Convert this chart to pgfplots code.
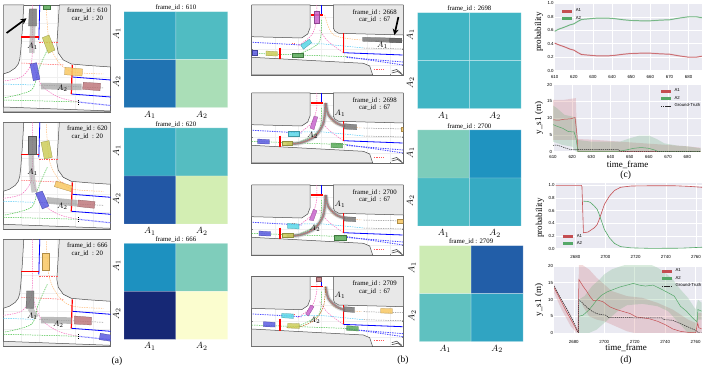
\documentclass[border=0pt]{standalone}
\usepackage{fontspec}
\setmainfont{Liberation Serif}
\newfontfamily\tickf{Liberation Sans}
\usepackage{pgfplots}
\pgfplotsset{compat=1.18}
\usetikzlibrary{arrows.meta}
\definecolor{ebg}{RGB}{234,234,242}
\definecolor{sred}{RGB}{196,78,82}
\definecolor{sgreen}{RGB}{85,168,104}
\definecolor{blk}{RGB}{232,232,232}
\definecolor{vgray}{RGB}{120,120,120}
\definecolor{vdk}{RGB}{100,100,100}
\definecolor{vyel}{RGB}{205,205,90}
\definecolor{vblue}{RGB}{90,90,225}
\definecolor{vora}{RGB}{248,200,100}
\definecolor{vrose}{RGB}{190,120,125}
\definecolor{vgrn}{RGB}{90,170,90}
\definecolor{vcya}{RGB}{90,215,230}
\definecolor{vmag}{RGB}{200,100,205}
\definecolor{band}{RGB}{165,165,165}
\pgfplotsset{
  pos/.style 2 args={at={(#1pt,{366pt-#2pt})},anchor=north west},
  colormap={ylgn}{rgb255=(255,255,217) rgb255=(237,248,177) rgb255=(199,233,180) rgb255=(127,205,187) rgb255=(65,182,196) rgb255=(29,145,192) rgb255=(34,94,168) rgb255=(37,52,148) rgb255=(8,29,88)},
  scene/.style={scale only axis,xmin=0,ymin=0,y dir=reverse,tick label style={font=\tiny},
    xticklabels={},yticklabels={},major tick length=1.2pt,tick style={gray},grid=major,grid style={gray!12,line width=.2pt},
    axis line style={draw=black!60,line width=.7pt}},
  sceneA/.style={scene,width=107.4pt,height=107pt,xmax=107.4,ymax=107,xtick={18.3,36,54,71.6,89.3},ytick={18,36,54,72,90}},
  sceneB/.style={scene,width=151.7pt,height=70pt,xmax=151.7,ymax=70,xtick={23,46,69,92,115,138},ytick={12,28,44,60}},
  line/.style={scale only axis,axis background/.style={fill=ebg},axis line style={draw=none},grid=major,
    grid style={white,line width=.5pt},major tick length=0pt,
    /pgf/number format/assume math mode=true,/pgf/number format/1000 sep={},
    tick label style={font=\tickf\fontsize{4.4}{5}\selectfont},
    yticklabel style={xshift=2.5pt},
    legend cell align=left,
    legend image code/.code={\draw[##1] (0pt,0pt) -- (10pt,0pt);},
    legend style={draw=none,fill=none,font=\tickf\fontsize{4.3}{5}\selectfont,row sep=-1pt}},
}
\newcommand{\veh}[2]{\addplot[fill=#1,draw=#1!70!black,line width=.25pt,fill opacity=.85] coordinates {#2} --cycle;}
\newcommand{\sln}[3][]{\addplot[#2,line width=.5pt,#1] coordinates {#3};}
\newcommand{\dsh}[3][]{\addplot[#2,line width=.5pt,dash pattern=on 1.4pt off 1pt,#1] coordinates {#3};}
\newcommand{\sm}[3][]{\addplot[#2,line width=.5pt,dash pattern=on 1.4pt off 1pt,smooth,#1] coordinates {#3};}
\newcommand{\bnd}[1]{\addplot[band,line width=5.5pt,opacity=.6,smooth] coordinates {#1};}
\newcommand{\trj}[1]{\addplot[band,line width=4.6pt,opacity=.35,smooth] coordinates {#1};
  \addplot[band!75!black,line width=2.4pt,opacity=.75,smooth] coordinates {#1};
  \addplot[red!75,line width=.35pt,dash pattern=on 1pt off 1pt,smooth] coordinates {#1};}
\newcommand{\frm}[4]{\node[font=\fontsize{6.8}{7}\selectfont] at (axis cs:#1,#2) {frame\_id : #3};
  \node[font=\fontsize{6.8}{7}\selectfont] at (axis cs:#1,{#2+7.6}) {car\_id\ \ : #4};}
\newcommand{\lab}[3]{\node[font=\fontsize{8.5}{9}\selectfont] at (axis cs:#1,#2) {$#3$};}
\newcommand{\sceneAbase}{%
  \addplot[fill=blk,draw=black!70,line width=.5pt] coordinates {(20.5,0)(19,25)(17.5,45)(16.5,54)(15,59)(12,63)(6,67)(0,69)(0,0)} --cycle;
  \addplot[fill=blk,draw=black!70,line width=.5pt] coordinates {(56,0)(54.5,25)(53.5,40)(55,48)(60,55)(68,59)(85,60.5)(107.4,62)(107.4,0)} --cycle;
  \addplot[fill=blk,draw=black!70,line width=.5pt] coordinates {(0,102)(107.4,106)(107.4,107)(0,107)} --cycle;
  \sln[line width=.8pt]{blue}{(36.5,0)(35.5,35)}
  \sln[line width=.8pt]{blue}{(69,72)(107.4,75)}
  \sln[line width=.8pt]{blue}{(68,89)(107.4,92)}
  \dsh[line width=1.1pt,dash pattern=on .8pt off .6pt]{blue!55}{(75,97)(107.4,100.5)}
  \sm{magenta!60}{(29,0)(29,30)(28,58)(18,72)(0,76)}
  \sm{magenta!55}{(30,60)(38,80)(55,92)(75,97)}
  \sm{green!50!gray}{(44,45)(35,65)(28,85)(0,93)}
  \sm{green!50!gray}{(0,95)(40,96)(75,97)}
  \sm{orange!55}{(43,2)(46,38)(56,58)(70,67)(100,69)}
  \dsh{cyan!70}{(0,79)(30,80)}
  \dsh{black!45}{(36,80)(100,83)}
  \dsh{red!65}{(18,58)(60,60)}
  \dsh{red!65}{(36,37)(55,37)}
  \sln[line width=1.2pt]{red}{(18,32)(36,32)}
  \sln[line width=1.2pt]{red}{(69,60)(68,89)}
  \sln[line width=.9pt,densely dotted]{black}{(75,95)(75,99)}
}
\newcommand{\sceneBbase}{%
  \addplot[fill=blk,draw=black!70,line width=.5pt] coordinates {(58.3,0)(58.3,23)(56,29)(50,33)(0,31.7)(0,0)} --cycle;
  \addplot[fill=blk,draw=black!70,line width=.5pt] coordinates {(81.7,0)(81.7,23)(83,26)(87,28.3)(151.7,30)(151.7,0)} --cycle;
  \addplot[fill=blk,draw=black!70,line width=.5pt] coordinates {(0,52.3)(111.7,58.3)(118,61)(121,70)(0,70)} --cycle;
  \sln[line width=.8pt]{blue}{(70,0)(70,10)}
  \sln[line width=.8pt]{blue}{(91.7,47.7)(151,50)}
  \dsh[line width=.8pt]{blue!70}{(1,37.3)(50,40)}
  \dsh[line width=.8pt]{blue!70}{(95,51.7)(151.7,60)}
  \dsh[line width=.8pt]{blue!70}{(95,52.5)(151.7,57)}
  \sm{magenta!60}{(65,0)(65,15)(60,30)(46,41)}
  \sm{magenta!55}{(68,25)(76,36)(92,48)}
  \sm{green!50!gray}{(70,15)(67,38)(45,50)}
  \dsh{green!50!gray}{(0,48.3)(95,51.7)}
  \sm{orange!55}{(73,10)(82,30)(110,35)}
  \dsh{cyan!70}{(50,39)(72,39)(112,43)}
  \dsh{black!45}{(112,35)(151.7,36)}
  \dsh{black!45}{(112,43)(151.7,44)}
  \dsh{red!65}{(122,64)(132,64)}
  \dsh{red!65}{(40,38)(43,38)}
  \sln[line width=.6pt]{black!70}{(140,66)(145,64.5)(150,68.5)}
  \sln[line width=.6pt]{black!70}{(140,68)(146,66.5)(151,70)}
  \sln[line width=1.2pt]{red}{(59,10)(71,10)}
  \sln[line width=1.2pt]{red}{(91.7,28.3)(91.7,47.7)}
  \sln[line width=1.2pt]{red}{(28.3,42.7)(28.3,54.3)}
}
\newcommand{\hm}[8]{%
\begin{axis}[scale only axis,pos={#1}{#2},width=#3pt,height=96pt,xmin=-.5,xmax=1.5,ymin=-.5,ymax=1.5,y dir=reverse,
  axis line style={draw=none},major tick length=0pt,xtick={0,1},ytick={0,1},xticklabels={$A_1$,$A_2$},yticklabels={$A_1$,$A_2$},
  tick label style={font=\fontsize{9.5}{10}\selectfont},y tick label style={rotate=90,xshift=1.5pt},
  title={frame\_id : #4},title style={font=\fontsize{6.8}{7}\selectfont,yshift=-8.5pt},
  colormap name=ylgn,point meta min=0,point meta max=1]
\addplot[matrix plot,mesh/cols=2,point meta=explicit,draw=white,draw opacity=.45,line width=.4pt]
  table[row sep=\\,meta=C]{x y C\\0 0 #5\\1 0 #6\\0 1 #7\\1 1 #8\\};
\end{axis}}
\begin{document}
\begin{tikzpicture}[x=1pt,y=1pt]
\path[use as bounding box] (0,0) rectangle (709pt,366pt);

%--- scene a1
\begin{axis}[sceneA,pos={3.3}{5}]
\sceneAbase
\bnd{(29.5,21)(28.5,48)}
\addplot[band,line width=6.5pt,opacity=.75] coordinates {(37.7,81)(78.3,82)};
\veh{vgrn}{(40,0)(47.3,0)(47.3,4.3)(40,4.3)}
\veh{vgray}{(26,4)(33.3,4)(33.3,21)(25.3,21)}
\veh{vyel}{(39,32.7)(45.7,30)(51.7,45)(45,48.3)}
\veh{vblue}{(26.7,59)(33.3,57.7)(36.7,74.3)(30,75.7)}
\veh{vora}{(61.7,62.3)(79.3,64)(78.7,71)(61.3,69.7)}
\veh{vrose}{(80,77.3)(97.3,78.3)(96.7,85.7)(79.3,84.3)}
\addplot[black,line width=1.7pt,-{Stealth[length=6pt,width=6pt]}] coordinates {(3.3,28)(23.3,13.3)};
\lab{29.3}{41.7}{A_1}\lab{59}{83.3}{A_2}
\frm{84}{5.5}{610}{20}
\end{axis}
%--- scene a2
\begin{axis}[sceneA,pos={3.3}{122.3}]
\sceneAbase
\bnd{(28,32)(28.5,50)(31,70)}
\addplot[band,line width=6.5pt,opacity=.75] coordinates {(43.3,78)(74,81)};
\veh{vgray}{(25.3,13.7)(33.3,13.7)(33.3,31.7)(25.3,31.7)}
\veh{vyel}{(37.7,20)(45.7,18.3)(49,35)(41,36.7)}
\veh{vblue}{(32.3,71)(39,68.7)(45.7,83.7)(39,86.7)}
\veh{vora}{(53,58.7)(69,63.7)(67.7,69.3)(51,64.3)}
\veh{vrose}{(75,77.7)(91.7,79.3)(91,86)(74.3,84.3)}
\lab{29.3}{50}{A_1}\lab{59}{84.3}{A_2}
\frm{84}{6.5}{620}{20}
\end{axis}
%--- scene a3
\begin{axis}[sceneA,pos={3.3}{239.3}]
\sceneAbase
\bnd{(26.7,69)(33,78)}
\addplot[band,line width=6.5pt,opacity=.75] coordinates {(37.7,80.7)(68.3,81.3)};
\veh{vora}{(38.7,14)(46,14)(46,30.7)(38.7,30.7)}
\veh{vgray}{(23.3,51.7)(30.7,51.7)(30.7,69)(22.7,69)}
\veh{vrose}{(71,76.7)(88.3,78)(88,85.7)(71,84.7)}
\veh{vblue}{(97,94)(107.4,95.7)(107.4,102)(96,100.3)}
\lab{29}{76.7}{A_1}\lab{55}{84.7}{A_2}
\frm{84}{6.5}{666}{20}
\end{axis}
%--- heatmaps a
\hm{124}{11.7}{103.7}{610}{.55}{.47}{.70}{.30}
\hm{124}{128}{103.7}{620}{.54}{.46}{.77}{.21}
\hm{124}{243.3}{103.7}{666}{.625}{.375}{.94}{.03}

%--- scene b1
\begin{axis}[sceneB,pos={251.7}{5}]
\sceneBbase
\veh{vmag}{(62.3,5.7)(67.7,5.7)(67.7,17.7)(62.3,17.7)}
\veh{vgray}{(111,32.3)(150,33.3)(150,37.7)(111,36.3)}
\veh{vdk}{(138,33.3)(150,33.6)(150,37.7)(138,37.3)}
\veh{vcya}{(49,40)(57.7,34.3)(60,37.7)(51.7,44.3)}
\veh{vgrn}{(40,47.7)(51.7,47.7)(51.7,52.3)(40,52.3)}
\veh{vyel}{(14.3,46)(25.7,46.7)(25.7,51)(14.3,50.7)}
\veh{vblue}{(0,45)(5,45)(5,49.7)(0,49.7)}
\addplot[black,line width=1.7pt,-{Stealth[length=6pt,width=6pt]}] coordinates {(146.7,12)(142.7,30)};
\lab{130.7}{40}{A_1}
\frm{123}{7.3}{2668}{67}
\end{axis}
%--- scene b2
\begin{axis}[sceneB,pos={251.7}{93}]
\sceneBbase
\trj{(74,10)(76.7,21.7)(85,30)(93.3,33.3)}
\trj{(74,10)(71.7,30)(63.3,43.3)(48.3,50)(35,50.7)}
\veh{vmag}{(58.3,35)(62.3,23.3)(66,24)(62.3,36.7)}
\veh{vgray}{(92.7,30.7)(105,31.7)(105,36.7)(92.7,36)}
\veh{vcya}{(36.7,38.3)(47.7,38.3)(47.7,43.3)(36.7,43.3)}
\veh{vora}{(149.7,34)(151.7,34)(151.7,38.3)(149.7,38.3)}
\veh{vyel}{(30,48.3)(40,48.3)(40,52.3)(30,52.3)}
\veh{vgrn}{(79.3,50)(91,50.3)(91,55)(79.3,54.7)}
\veh{vblue}{(6,46)(17.7,46.7)(17.7,51)(6,50.7)}
\lab{88.3}{20.7}{A_1}\lab{61}{42.7}{A_2}
\frm{123}{7.3}{2698}{67}
\end{axis}
%--- scene b3
\begin{axis}[sceneB,pos={251.7}{185}]
\sceneBbase
\trj{(74,10)(76.7,21.7)(85,30)(93.3,33.3)}
\trj{(74,10)(71.7,30)(63.3,43.3)(48.3,50)(35,50.7)}
\veh{vmag}{(57.7,35)(61.7,24.3)(65.3,25.7)(61.7,35.7)}
\veh{vgray}{(92.3,31.7)(104,32.3)(104,36.7)(92.3,36)}
\veh{vcya}{(35.7,38.3)(47.3,39)(47.3,44)(35.7,43.3)}
\veh{vyel}{(30,47.7)(41,47.7)(41,52.3)(30,52.3)}
\veh{vgrn}{(82.7,50.3)(94.3,50.3)(94.3,55)(82.7,55)}
\veh{vblue}{(7.3,46)(19,46.7)(19,51)(7.3,50.7)}
\veh{vora}{(145.7,33.7)(151.7,33.7)(151.7,38.3)(145.7,38.3)}
\lab{88.3}{19}{A_1}\lab{63.3}{43.3}{A_2}
\frm{123}{7.3}{2700}{67}
\end{axis}
%--- scene b4
\begin{axis}[sceneB,pos={251.7}{276.7}]
\sceneBbase
\trj{(74,10)(76.7,21.7)(85,30)(93.3,33.3)}
\sm{orange!70!black}{(74,10)(71.7,30)(63.3,43.3)(48.3,50)(35,50.7)}
\veh{vrose}{(64.3,0)(69.3,0)(69.3,4)(64.3,4)}
\veh{vmag}{(54,37.3)(59,28.3)(62.3,30)(56.7,39.3)}
\veh{vgray}{(92.3,30)(102.7,30.7)(102.7,35.7)(92.3,35)}
\veh{vora}{(129,31.7)(140.7,32)(140.7,36.7)(129,36.3)}
\veh{vcya}{(30,36.7)(41.7,37.3)(41.7,41.7)(30,41)}
\veh{vyel}{(36,46.7)(47.7,47)(47.7,51.7)(36,51.3)}
\veh{vblue}{(11.7,45)(23.3,45.7)(23.3,50.3)(11.7,50)}
\veh{vgrn}{(95,49)(106.7,50)(106.7,54.3)(95,53.7)}
\lab{88.3}{18.3}{A_1}\lab{63.3}{43.3}{A_2}
\frm{123}{7.3}{2709}{67}
\end{axis}
%--- heatmaps b
\hm{417.7}{12.7}{103.3}{2698}{.505}{.505}{.505}{.505}
\hm{417.7}{130}{103.3}{2700}{.38}{.62}{.48}{.54}
\hm{419.3}{245.7}{103.7}{2709}{.23}{.75}{.44}{.56}

%--- c top
\begin{axis}[line,pos={554.7}{3.3},width=147.3pt,height=67.4pt,xmin=610,xmax=687,ymin=0,ymax=1,xticklabel style={yshift=-1.5pt},
  xtick={610,620,630,640,650,660,670,680},ytick={0,.2,.4,.6,.8,1},yticklabel style={/pgf/number format/fixed,/pgf/number format/fixed zerofill,/pgf/number format/precision=1},
  legend style={at={(0.02,.98)},anchor=north west}]
\addplot[sred,line width=1.4pt,opacity=.3,forget plot] coordinates {(610,.41)(612,.385)(615,.355)(618,.32)(620,.305)(622,.27)(624,.24)(628,.23)(632,.22)(638,.22)(642,.23)(646,.245)(650,.255)(655,.26)(660,.26)(665,.25)(670,.245)(675,.22)(680,.20)(684,.2)(687,.215)};
\addplot[sgreen,line width=1.4pt,opacity=.3,forget plot] coordinates {(610,.585)(612,.615)(615,.645)(618,.68)(620,.695)(622,.73)(624,.76)(628,.77)(632,.78)(638,.78)(642,.77)(646,.755)(650,.745)(655,.74)(660,.74)(665,.75)(670,.755)(675,.78)(680,.80)(684,.80)(687,.785)};
\addplot[sred,line width=.5pt,forget plot] coordinates {(610,.41)(612,.385)(615,.355)(618,.32)(620,.305)(622,.27)(624,.24)(628,.23)(632,.22)(638,.22)(642,.23)(646,.245)(650,.255)(655,.26)(660,.26)(665,.25)(670,.245)(675,.22)(680,.20)(684,.2)(687,.215)};
\addplot[sgreen,line width=.5pt,forget plot] coordinates {(610,.585)(612,.615)(615,.645)(618,.68)(620,.695)(622,.73)(624,.76)(628,.77)(632,.78)(638,.78)(642,.77)(646,.755)(650,.745)(655,.74)(660,.74)(665,.75)(670,.755)(675,.78)(680,.80)(684,.80)(687,.785)};
\addlegendimage{sred,line width=3pt}\addlegendentry{A1}
\addlegendimage{sgreen,line width=3pt}\addlegendentry{A2}
\end{axis}
%--- c bottom
\begin{axis}[line,pos={553}{84.7},width=147.7pt,height=67pt,xmin=610,xmax=687,ymin=0,ymax=20,xticklabel style={yshift=-.5pt},
  xtick={610,620,630,640,650,660,670,680},ytick={0,5,10,15,20},
  legend style={at={(0.70,1.0)},anchor=north west}]
\addplot[fill=sred,fill opacity=.2,draw=none,forget plot] coordinates {(610,15.5)(616,15.5)(621.9,16)(622.5,3.8)(630,3.6)(640,3.2)(650,2.8)(660,2.4)(670,2)(680,1.6)(687,1.2)(687,0)(623,0)(622,3.5)(610,3.5)} --cycle;
\addplot[fill=sgreen,fill opacity=.22,draw=none,forget plot] coordinates {(610,13.8)(612,13)(616,11)(620,10.5)(622,10)(623,3.5)(630,3)(645,3)(650,4)(655,4.8)(660,4.8)(664,3.8)(668,2.5)(675,1.8)(680,1.6)(687,1)(687,0)(623,0)(622,0)(620,1.5)(615,2)(610,3)} --cycle;
\addplot[sred,line width=.5pt,forget plot] coordinates {(610,9.5)(613,9.4)(616,9.7)(619,9.8)(621.5,10.2)(622.5,5)(623,0)(687,0)};
\addplot[sgreen,line width=.5pt,forget plot] coordinates {(610,8.1)(612,7.6)(615,7)(618,6)(621,5.9)(622,4)(623,0)(643,0)(648,.5)(652,1)(656,1.25)(660,1)(663,.5)(665,0)(687,0)};
\addplot[black!85,line width=.5pt,dash pattern=on 1.3pt off .8pt,forget plot] coordinates {(610,1.9)(612,2)(614,1.6)(616,1.2)(618,.8)(620,.6)(644,.6)(645,.1)(687,.1)};
\addlegendimage{sred,line width=3pt}\addlegendentry{A1}
\addlegendimage{sgreen,line width=3pt}\addlegendentry{A2}
\addlegendimage{black!85,line width=.5pt,dash pattern=on 1.3pt off .8pt}\addlegendentry{Ground-Truth}
\end{axis}
%--- d top
\begin{axis}[line,pos={555.7}{183.5},width=146.3pt,height=65pt,xmin=2667,xmax=2764,ymin=0,ymax=1.03,xticklabel style={yshift=-3.5pt},
  xtick={2680,2700,2720,2740,2760},ytick={0,.2,.4,.6,.8,1},yticklabel style={/pgf/number format/fixed,/pgf/number format/fixed zerofill,/pgf/number format/precision=1},
  legend style={at={(0.02,-.03)},anchor=south west}]
\addplot[sred,line width=.6pt,forget plot] coordinates {(2667,1)(2684,1)(2684.4,.98)(2685.4,.25)(2688.4,.26)(2692.7,.33)(2694.5,.38)(2696,.47)(2699.3,.7)(2702.6,.83)(2706,.92)(2710,.97)(2717,.99)(2725,.993)(2735,.995)(2745,.995)(2755,.985)(2764,.97)};
\addplot[sgreen,line width=.6pt,forget plot] coordinates {(2685.4,.75)(2688.4,.745)(2690,.73)(2692.7,.67)(2694.5,.62)(2696,.53)(2699.3,.30)(2702.6,.17)(2706,.08)(2710,.03)(2717,.01)(2730,.002)(2750,.005)(2764,.02)};
\addlegendimage{sred,line width=3pt}\addlegendentry{A1}
\addlegendimage{sgreen,line width=3pt}\addlegendentry{A2}
\end{axis}
%--- d bottom
\begin{axis}[line,pos={554}{266},width=147.7pt,height=67pt,xmin=2667,xmax=2764,ymin=0,ymax=20,xticklabel style={yshift=-3.5pt},
  xtick={2680,2700,2720,2740,2760},ytick={0,5,10,15,20},
  legend style={at={(0.70,1.02)},anchor=north west}]
\addplot[fill=sred,fill opacity=.2,draw=none,forget plot] coordinates {(2667,14.5)(2672,10)(2678,5.5)(2682,1.2)(2683,0)(2683.3,21)(2690,19)(2695,16.5)(2700,14.5)(2705,12.5)(2715,11)(2725,10.5)(2735,9)(2745,7)(2755,4)(2760,3)(2761.5,6)(2764,6)(2764,0)(2720,0)(2715,.5)(2705,2.5)(2700,3.5)(2695,4)(2690,5)(2686,8)(2683.3,11)(2682,0)(2678,2)(2672,7)(2667,12)} --cycle;
\addplot[fill=sgreen,fill opacity=.22,draw=none,forget plot] coordinates {(2683.3,10)(2687,11)(2692,14)(2697,16)(2700,17.5)(2705,19)(2710,19.8)(2715,20.5)(2730,20.5)(2735,19.5)(2740,18)(2745,16)(2750,13)(2755,10.5)(2760,7)(2761.5,10)(2764,9)(2764,4)(2761.5,4)(2760,0)(2755,0)(2752,1.5)(2748,3.5)(2742,6.5)(2735,8)(2725,8.7)(2715,8.3)(2710,7)(2705,5)(2700,3)(2695,1)(2690,0)(2683.3,0)} --cycle;
\addplot[sred,line width=.5pt,forget plot] coordinates {(2667,13.5)(2670,11)(2675,6.5)(2680,2.5)(2683,0)(2683.3,16)(2686,14)(2688.4,12.5)(2690.5,11)(2692.7,9.7)(2696,9.8)(2699.3,9.3)(2703.7,7.8)(2708,7)(2712.5,6.4)(2717,5.8)(2721,4.8)(2725.7,4.5)(2730,4.2)(2735,3.5)(2740,2.5)(2745,1.2)(2750,.5)(2755,.2)(2760,.05)(2761.4,3)(2762,1.6)(2764,1.2)};
\addplot[sgreen,line width=.5pt,forget plot] coordinates {(2683.3,5)(2686,5.3)(2689,6.5)(2692,8)(2695,9.8)(2698,11.2)(2702,12.3)(2706,13)(2710,13.7)(2715,14.3)(2719,14.8)(2723,14.3)(2727,14)(2732,14.3)(2737,13.2)(2742,12)(2746,11)(2750,8)(2754,6.5)(2758,4.5)(2761,3.3)(2761.5,7)(2764,6.5)};
\addplot[black!85,line width=.5pt,dash pattern=on 1.3pt off .8pt,forget plot] coordinates {(2667,14)(2670,11.5)(2675,7.5)(2680,3.2)(2683,0)(2683.3,10)(2686,8.8)(2689,7.5)(2692,6.5)(2695,5.8)(2698,5.5)(2701,5.3)(2703,4.6)(2735,4.5)(2738,4.5)(2739,4)(2745,3.8)(2750,2.8)(2755,1.8)(2760,.8)(2762,.05)(2764,.05)};
\addlegendimage{sred,line width=3pt}\addlegendentry{A1}
\addlegendimage{sgreen,line width=3pt}\addlegendentry{A2}
\addlegendimage{black!85,line width=.5pt,dash pattern=on 1.3pt off .8pt}\addlegendentry{Ground-Truth}
\end{axis}

%--- canvas text
\begin{scope}[shift={(0,366pt)},x=1pt,y=-1pt]
\node[font=\fontsize{9.5}{10}\selectfont] at (117,361) {(a)};
\node[font=\fontsize{9.5}{10}\selectfont] at (403,360) {(b)};
\node[font=\fontsize{9.5}{10}\selectfont] at (625.7,175) {(c)};
\node[font=\fontsize{9.5}{10}\selectfont] at (626,360) {(d)};
\node[font=\fontsize{9}{9}\selectfont,rotate=90] at (539,32) {probability};
\node[font=\fontsize{9}{9}\selectfont,rotate=90] at (539,118) {y\_s1 (m)};
\node[font=\fontsize{9}{9}\selectfont,rotate=90] at (540,218) {probability};
\node[font=\fontsize{9}{9}\selectfont,rotate=90] at (539,300) {y\_s1 (m)};
\node[font=\fontsize{9}{9}\selectfont] at (627.7,165) {time\_frame};
\node[font=\fontsize{9}{9}\selectfont] at (626,348) {time\_frame};
\end{scope}
\end{tikzpicture}
\end{document}
